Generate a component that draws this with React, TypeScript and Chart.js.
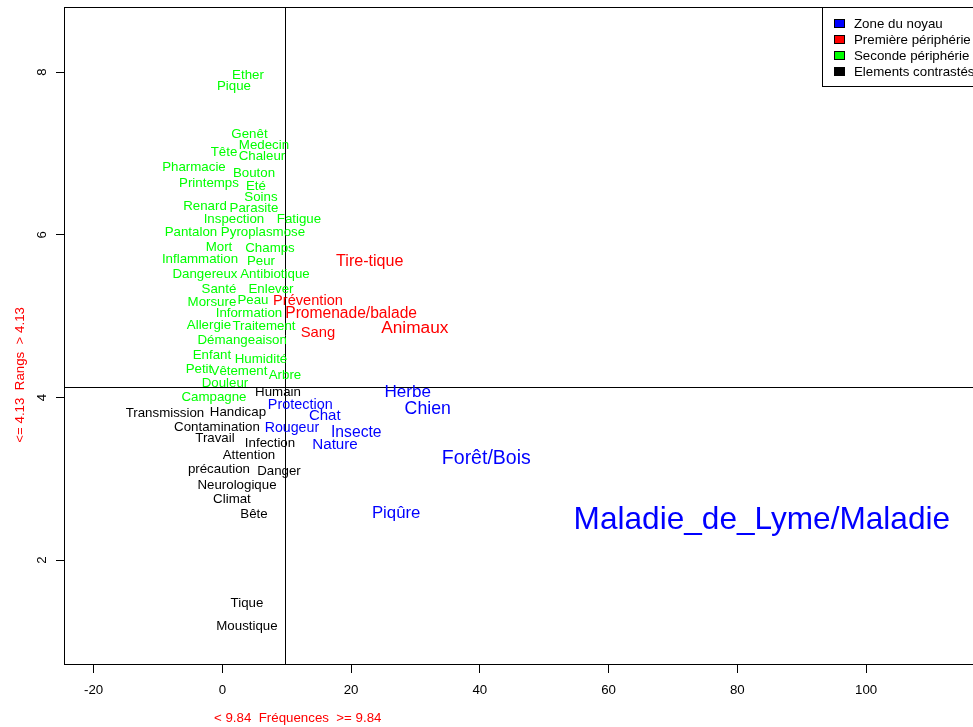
import React, { useEffect, useRef } from "react";
import { Chart, registerables } from "chart.js";

Chart.register(...registerables);

// ---------- data ----------
const coreWords = ["Herbe", "Chien", "Protection", "Chat", "Rougeur", "Insecte", "Nature", "Forêt/Bois", "Piqûre", "Maladie_de_Lyme/Maladie"];
const coreFreq = [28.8, 31.9, 12.1, 15.9, 10.8, 20.8, 17.5, 41.0, 27.0, 83.8];
const coreRank = [4.08, 3.88, 3.93, 3.79, 3.64, 3.59, 3.44, 3.27, 2.59, 2.51];

const firstWords = ["Tire-tique", "Prévention", "Promenade/balade", "Sang", "Animaux"];
const firstFreq = [22.9, 13.3, 20.0, 14.85, 29.9];
const firstRank = [5.69, 5.2, 5.05, 4.81, 4.87];

const secondWords = ["Ether", "Pique", "Genêt", "Medecin", "Tête", "Chaleur", "Pharmacie", "Bouton", "Printemps", "Eté", "Soins", "Renard", "Parasite", "Inspection", "Fatigue", "Pantalon", "Pyroplasmose", "Mort", "Champs", "Inflammation", "Peur", "Dangereux", "Antibiotique", "Santé", "Enlever", "Morsure", "Peau", "Information", "Allergie", "Traitement", "Démangeaison", "Enfant", "Humidité", "Petit", "Vêtement", "Arbre", "Douleur", "Campagne"];
const secondFreq = [3.98, 1.8, 4.21, 6.46, 0.25, 6.15, -4.41, 4.91, -2.08, 5.22, 6.0, -2.7, 4.91, 1.8, 11.9, -4.88, 6.31, -0.53, 7.4, -3.48, 6.0, -2.7, 8.17, -0.53, 7.55, -1.62, 4.75, 4.13, -2.08, 6.46, 3.08, -1.62, 6.0, -3.64, 2.58, 9.73, 0.4, -1.31];
const secondRank = [7.98, 7.84, 7.25, 7.12, 7.03, 6.98, 6.85, 6.77, 6.65, 6.61, 6.48, 6.37, 6.34, 6.21, 6.21, 6.05, 6.05, 5.86, 5.85, 5.72, 5.69, 5.53, 5.53, 5.35, 5.35, 5.19, 5.21, 5.05, 4.91, 4.89, 4.72, 4.54, 4.49, 4.36, 4.34, 4.29, 4.19, 4.02];

const contrastWords = ["Humain", "Transmission", "Handicap", "Contamination", "Travail", "Infection", "Attention", "précaution", "Danger", "Neurologique", "Climat", "Bête", "Tique", "Moustique"];
const contrastFreq = [8.64, -8.92, 2.42, -0.84, -1.15, 7.4, 4.13, -0.53, 8.79, 2.27, 1.49, 4.91, 3.82, 3.82];
const contrastRank = [4.08, 3.82, 3.83, 3.65, 3.51, 3.45, 3.31, 3.13, 3.11, 2.94, 2.76, 2.58, 1.49, 1.2];

const legendLabels = ["Zone du noyau", "Première périphérie", "Seconde périphérie", "Elements contrastés"];
const xTicks = [-20, 0, 20, 40, 60, 80, 100];
const yTicks = [2, 4, 6, 8];
const freqThreshold = 9.84;
const rankThreshold = 4.13;
const xTitle = "< 9.84  Fréquences  >= 9.84";
const yTitle = "<= 4.13  Rangs  > 4.13";

// ---------- styles ----------
const FONT = "'Liberation Sans', Arial, sans-serif";
const groupColors = ["#0000FF", "#FF0000", "#00FF00", "#000000"];
const scaledGroups = [true, true, false, false];

function labelSize(freq: number, scaled: boolean) {
  if (!scaled) return 13.3;
  return 13 + 0.1 * freq + 0.00145 * freq * freq;
}

const groups = [
  { words: coreWords, x: coreFreq, y: coreRank },
  { words: firstWords, x: firstFreq, y: firstRank },
  { words: secondWords, x: secondFreq, y: secondRank },
  { words: contrastWords, x: contrastFreq, y: contrastRank },
];

const wordPlugin = {
  id: "wordPlugin",
  beforeDatasetsDraw(chart: any) {
    const { ctx, chartArea } = chart;
    const xs = chart.scales.x;
    const ys = chart.scales.y;
    ctx.save();
    ctx.strokeStyle = "#000";
    ctx.lineWidth = 1;
    const vx = Math.round(xs.getPixelForValue(freqThreshold)) - 0.5;
    const hy = Math.round(ys.getPixelForValue(rankThreshold)) + 0.5;
    ctx.beginPath();
    ctx.moveTo(vx, chartArea.top);
    ctx.lineTo(vx, chartArea.bottom);
    ctx.moveTo(chartArea.left, hy);
    ctx.lineTo(chartArea.right, hy);
    ctx.stroke();
    ctx.strokeRect(
      Math.round(chartArea.left) + 0.5,
      Math.round(chartArea.top) + 0.5,
      Math.round(chartArea.right - chartArea.left),
      Math.round(chartArea.bottom - chartArea.top)
    );
    ctx.restore();
  },
  afterDatasetsDraw(chart: any) {
    const { ctx } = chart;
    ctx.save();
    ctx.textAlign = "center";
    ctx.textBaseline = "middle";
    groups.forEach((g, gi) => {
      const meta = chart.getDatasetMeta(gi);
      meta.data.forEach((el: any, j: number) => {
        const size = labelSize(g.x[j], scaledGroups[gi]);
        ctx.font = `${size.toFixed(1)}px ${FONT}`;
        ctx.fillStyle = groupColors[gi];
        ctx.fillText(g.words[j], el.x, el.y + 1.5);
      });
    });
    ctx.restore();
  },
  afterDraw(chart: any) {
    const { ctx, chartArea } = chart;
    const xs = chart.scales.x;
    const ys = chart.scales.y;
    ctx.save();
    // y tick labels (rotated)
    ctx.fillStyle = "#000";
    ctx.font = `13.3px ${FONT}`;
    ctx.textAlign = "center";
    ctx.textBaseline = "middle";
    yTicks.forEach((v) => {
      const py = ys.getPixelForValue(v);
      ctx.save();
      ctx.translate(chartArea.left - 22, py);
      ctx.rotate(-Math.PI / 2);
      ctx.fillText(String(v), 0, 0);
      ctx.restore();
    });
    // axis titles
    ctx.fillStyle = "#FF0000";
    ctx.fillText(xTitle, xs.getPixelForValue(freqThreshold) + 12, chartArea.bottom + 54);
    ctx.save();
    ctx.translate(20, ys.getPixelForValue(rankThreshold) - 12);
    ctx.rotate(-Math.PI / 2);
    ctx.fillText(yTitle, 0, 0);
    ctx.restore();
    // legend
    ctx.font = `13.3px ${FONT}`;
    let maxW = 0;
    legendLabels.forEach((t) => (maxW = Math.max(maxW, ctx.measureText(t).width)));
    const w = Math.round(32 + maxW + 8);
    const left = Math.round(chartArea.right - w);
    const top = Math.round(chartArea.top);
    const h = 79;
    ctx.fillStyle = "#fff";
    ctx.fillRect(left, top, w, h);
    ctx.strokeStyle = "#000";
    ctx.lineWidth = 1;
    ctx.strokeRect(left + 0.5, top + 0.5, w, h);
    ctx.textAlign = "left";
    legendLabels.forEach((t, i) => {
      const cy = top + 16 + i * 16;
      ctx.fillStyle = groupColors[i];
      ctx.fillRect(left + 12, cy - 4, 11, 9);
      ctx.strokeStyle = "#000";
      ctx.strokeRect(left + 12.5, cy - 3.5, 10, 8);
      ctx.fillStyle = "#000";
      ctx.fillText(t, left + 32, cy + 1);
    });
    ctx.restore();
  },
};

export default function App() {
  const ref = useRef<HTMLCanvasElement | null>(null);
  useEffect(() => {
    if (!ref.current) return;
    const datasets = groups.map((g, gi) => ({
      label: legendLabels[gi],
      data: g.x.map((x, j) => ({ x, y: g.y[j] })),
      pointRadius: 0,
      pointHoverRadius: 0,
      showLine: false,
      backgroundColor: groupColors[gi],
      borderColor: groupColors[gi],
    }));
    const chart = new Chart(ref.current, {
      type: "scatter",
      data: { datasets },
      options: {
        animation: false,
        responsive: false,
        maintainAspectRatio: false,
        events: [],
        layout: { padding: { top: 7, right: 8, left: 0, bottom: 0 } },
        plugins: { legend: { display: false }, tooltip: { enabled: false } },
        scales: {
          x: {
            type: "linear",
            min: -24.6,
            max: 118,
            afterBuildTicks: (s: any) => {
              s.ticks = xTicks.map((v) => ({ value: v }));
            },
            afterFit: (s: any) => {
              s.height = 63;
            },
            grid: { drawOnChartArea: false, drawTicks: true, tickLength: 9, color: "#000" },
            border: { display: false },
            ticks: {
              color: "#000",
              font: { family: FONT, size: 13.3 },
              padding: 9,
              maxRotation: 0,
              minRotation: 0,
              autoSkip: false,
            },
          },
          y: {
            type: "linear",
            min: 0.723,
            max: 8.8,
            afterBuildTicks: (s: any) => {
              s.ticks = yTicks.map((v) => ({ value: v }));
            },
            afterFit: (s: any) => {
              s.width = 64;
            },
            grid: { drawOnChartArea: false, drawTicks: true, tickLength: 8, color: "#000" },
            border: { display: false },
            ticks: { display: false },
          },
        },
      },
      plugins: [wordPlugin],
    });
    return () => chart.destroy();
  }, []);
  return (
    <div
      style={{
        position: "fixed",
        left: 0,
        top: 0,
        width: 973,
        height: 727,
        overflow: "hidden",
        background: "#fff",
      }}
    >
      <canvas ref={ref} width={990} height={727} style={{ width: 990, height: 727, display: "block" }} />
    </div>
  );
}
